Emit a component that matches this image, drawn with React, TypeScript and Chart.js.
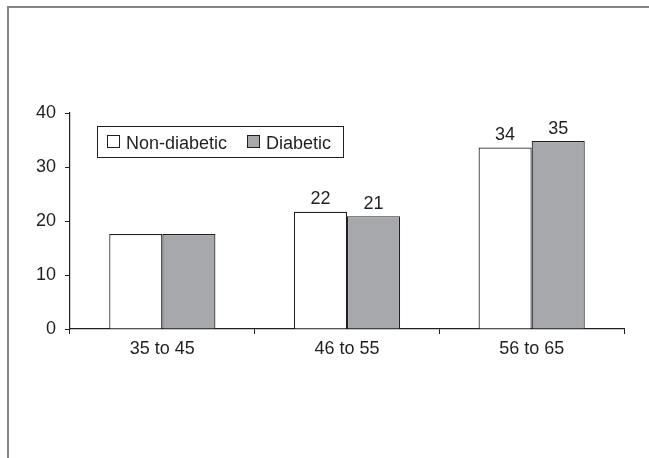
import React, { useEffect, useRef } from "react";
import { Chart, registerables } from "chart.js";

Chart.register(...registerables);

const categories = ["35 to 45", "46 to 55", "56 to 65"];
const nonDiabetic = [17.6, 21.7, 33.6];
const diabetic = [17.6, 20.9, 34.8];
const nonDiabeticLabels = ["", "22", "34"];
const diabeticLabels = ["", "21", "35"];
const yTicks = [0, 10, 20, 30, 40];
const seriesNames = ["Non-diabetic", "Diabetic"];

const INK = "#231f20";
const GREY = "#a7a8ab";
const FONT = "'Liberation Sans', Arial, sans-serif";

const framePlugin = {
  id: "frame",
  beforeDraw(chart: any) {
    const ctx = chart.ctx;
    ctx.save();
    ctx.fillStyle = "#ffffff";
    ctx.fillRect(0, 0, chart.width, chart.height);
    ctx.strokeStyle = "#858585";
    ctx.lineWidth = 2;
    ctx.beginPath();
    ctx.moveTo(8, chart.height);
    ctx.lineTo(8, 7);
    ctx.lineTo(chart.width, 7);
    ctx.stroke();
    ctx.restore();
  },
};

const labelPlugin = {
  id: "valueLabels",
  afterDatasetsDraw(chart: any) {
    const ctx = chart.ctx;
    const sets = [nonDiabeticLabels, diabeticLabels];
    ctx.save();
    ctx.font = `18px ${FONT}`;
    ctx.fillStyle = INK;
    ctx.textAlign = "center";
    ctx.textBaseline = "alphabetic";
    sets.forEach((labels, di) => {
      const meta = chart.getDatasetMeta(di);
      meta.data.forEach((bar: any, i: number) => {
        if (!labels[i]) return;
        ctx.fillText(labels[i], bar.x, bar.y - 7.5);
      });
    });
    ctx.restore();
  },
};

const legendPlugin = {
  id: "boxLegend",
  afterDraw(chart: any) {
    const ctx = chart.ctx;
    ctx.save();
    ctx.strokeStyle = INK;
    ctx.lineWidth = 1;
    ctx.fillStyle = "#ffffff";
    ctx.fillRect(97.5, 126.5, 246, 31);
    ctx.strokeRect(97.5, 126.5, 246, 31);
    // swatches
    ctx.fillStyle = "#ffffff";
    ctx.fillRect(107.5, 135.5, 12, 12);
    ctx.strokeRect(107.5, 135.5, 12, 12);
    ctx.fillStyle = GREY;
    ctx.fillRect(247.5, 135.5, 12, 12);
    ctx.strokeRect(247.5, 135.5, 12, 12);
    ctx.fillStyle = INK;
    ctx.font = `18px ${FONT}`;
    ctx.textAlign = "left";
    ctx.textBaseline = "alphabetic";
    ctx.fillText(seriesNames[0], 126, 148.5);
    ctx.fillText(seriesNames[1], 266, 148.5);
    ctx.restore();
  },
};

export default function App() {
  const ref = useRef<HTMLCanvasElement>(null);

  useEffect(() => {
    if (!ref.current) return;
    const chart = new Chart(ref.current, {
      type: "bar",
      data: {
        labels: categories,
        datasets: [
          {
            label: seriesNames[0],
            data: nonDiabetic,
            backgroundColor: "#ffffff",
            borderColor: INK,
            borderWidth: 1.2,
            barPercentage: 1,
            categoryPercentage: 0.575,
          },
          {
            label: seriesNames[1],
            data: diabetic,
            backgroundColor: GREY,
            borderColor: INK,
            borderWidth: 1.2,
            barPercentage: 1,
            categoryPercentage: 0.575,
          },
        ],
      },
      options: {
        animation: false,
        responsive: false,
        maintainAspectRatio: false,
        devicePixelRatio: 1,
        layout: { padding: { top: 113, right: 25, bottom: 0, left: 0 } },
        plugins: {
          legend: { display: false },
          tooltip: { enabled: false },
          title: { display: false },
        },
        scales: {
          x: {
            afterFit(scale: any) {
              scale.height = 129;
            },
            grid: {
              display: true,
              drawOnChartArea: false,
              drawTicks: true,
              tickLength: 5,
              color: INK,
              offset: true,
            },
            border: { display: true, color: INK, width: 1.2 },
            ticks: {
              color: INK,
              font: { family: FONT, size: 18 },
              padding: 4,
            },
          },
          y: {
            min: 0,
            max: 40,
            afterFit(scale: any) {
              scale.width = 70;
            },
            afterBuildTicks(scale: any) {
              scale.ticks = yTicks.map((v) => ({ value: v }));
            },
            grid: {
              display: true,
              drawOnChartArea: false,
              drawTicks: true,
              tickLength: 5,
              color: INK,
            },
            border: { display: true, color: INK, width: 1.2 },
            ticks: {
              color: INK,
              font: { family: FONT, size: 18 },
              padding: 9,
            },
          },
        },
      },
      plugins: [framePlugin, labelPlugin, legendPlugin],
    });
    return () => chart.destroy();
  }, []);

  return (
    <div style={{ position: "fixed", left: 0, top: 0, width: 649, height: 458 }}>
      <canvas ref={ref} width={649} height={458} style={{ width: 649, height: 458 }} />
    </div>
  );
}
